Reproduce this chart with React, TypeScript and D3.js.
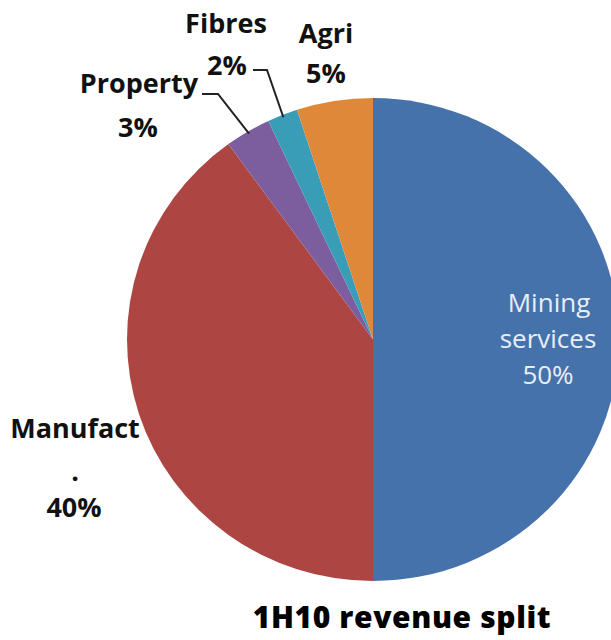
import React from "react";
import * as d3 from "d3";

const categories = ["Mining services", "Manufact", "Property", "Fibres", "Agri"];
const values = [50, 40, 3, 2, 5];
const colors = ["#4672AC", "#AD4643", "#7C5E9F", "#3A9DB8", "#E0883A"];
const title = "1H10 revenue split";

const W = 611;
const H = 640;
const cx = 373;
const cy = 339.5;
const rx = 246;
const ry = 241.5;

export default function App() {
  const pie = d3
    .pie<number>()
    .sort(null)
    .value((d) => d)
    .startAngle(0)
    .endAngle(2 * Math.PI);
  const arcs = pie(values);
  const arc = d3.arc<d3.PieArcDatum<number>>().innerRadius(0).outerRadius(rx);

  const font = "'Open Sans', Lato, sans-serif";
  const outer = (a: number, k = 1) => [cx + rx * k * Math.sin(a), cy - ry * k * Math.cos(a)];
  const mid = (i: number) => (arcs[i].startAngle + arcs[i].endAngle) / 2;
  const pProp = outer(mid(2), 0.99);
  const pFib = outer(mid(3), 0.99);

  return (
    <svg width={W} height={H} style={{ position: "absolute", left: 0, top: 0, background: "#fff" }}>
      <g transform={`translate(${cx},${cy}) scale(1,${ry / rx})`}>
        {arcs.map((a, i) => (
          <path key={categories[i]} d={arc(a) || ""} fill={colors[i]} />
        ))}
      </g>
      {/* leader lines */}
      <path d={`M202,94 H218 L${pProp[0]},${pProp[1]}`} fill="none" stroke="#222" strokeWidth={2} />
      <path d={`M253,70 H267 L${pFib[0]},${pFib[1]}`} fill="none" stroke="#222" strokeWidth={2} />

      <g fontFamily={font} fontWeight="bold" fill="#111" textAnchor="middle" fontSize={27}>
        <text x={226} y={33}>Fibres</text>
        <text x={227} y={75}>{values[3]}%</text>
        <text x={326} y={43}>Agri</text>
        <text x={326} y={83}>{values[4]}%</text>
        <text x={139} y={93}>Property</text>
        <text x={138} y={137}>{values[2]}%</text>
        <text x={75} y={438}>Manufact</text>
        <text x={75} y={481}>.</text>
        <text x={74} y={517}>{values[1]}%</text>
      </g>
      <g fontFamily={font} fill="#E9EEF6" textAnchor="middle" fontSize={26}>
        <text x={549} y={312}>Mining</text>
        <text x={548} y={348}>services</text>
        <text x={548} y={384}>{values[0]}%</text>
      </g>
      <text
        x={402}
        y={628}
        fontFamily={font}
        fontWeight={800}
        fontSize={30}
        textAnchor="middle"
        fill="#000"
        letterSpacing={0.6}
      >
        {title}
      </text>
    </svg>
  );
}
